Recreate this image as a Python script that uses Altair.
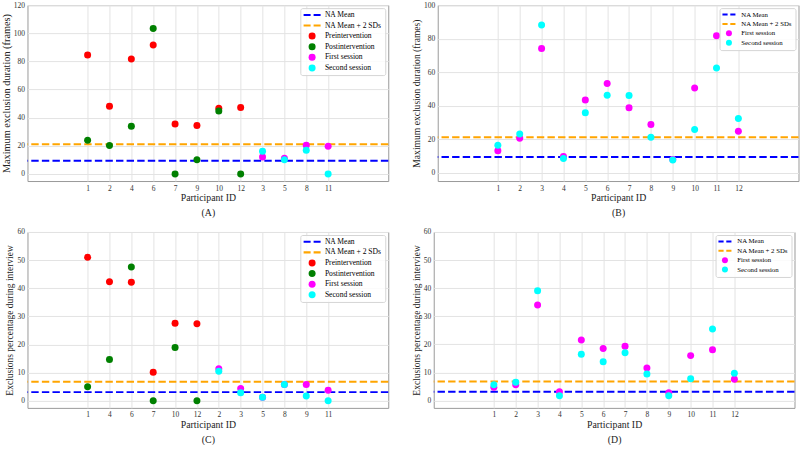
import altair as alt
import pandas as pd

FONT = "Liberation Serif"

SERIES = ["NA Mean", "NA Mean + 2 SDs", "Preintervention", "Postintervention",
          "First session", "Second session"]
SERIES_COLORS = ["#0000ff", "#ffa500", "#ff0000", "#008000", "#ff00ff", "#00ffff"]


def dash_glyph(half_width, half_thick, gap):
    """Two-dash line glyph in symbol units (scaled by the legend symbol radius)."""
    return ("M%.2f,%.2fH%.2fV%.2fH%.2fZ M%.2f,%.2fH%.2fV%.2fH%.2fZ" % (
        -half_width, -half_thick, -gap, half_thick, -half_width,
        gap, -half_thick, half_width, half_thick, gap))


# ---- (A) maximum exclusion duration, grouped ordering ----
a_ids = ["1", "2", "4", "6", "7", "9", "10", "12", "3", "5", "8", "11"]
a_pre = [84.6, 48.2, 81.7, 91.7, 35.6, 34.5, 46.8, 47.3]      # IDs 1,2,4,6,7,9,10,12
a_post = [24.0, 20.2, 34.0, 103.4, 0.0, 10.2, 44.7, 0.0]
a_first = [12.1, 11.2, 20.4, 19.7]                              # IDs 3,5,8,11
a_second = [16.2, 10.2, 16.9, 0.0]

# ---- (B) maximum exclusion duration, sessions ----
b_ids = [str(i) for i in range(1, 13)]
b_first = [13.1, 20.5, 74.1, 9.6, 43.4, 53.2, 38.8, 28.7, 7.8, 50.6, 81.7, 24.7]
b_second = [16.3, 23.1, 88.2, 8.4, 35.7, 46.2, 46.0, 21.1, 7.6, 25.7, 62.5, 32.3]

# ---- (C) exclusion percentage, grouped ordering ----
c_ids = ["1", "4", "6", "7", "10", "12", "2", "3", "5", "8", "9", "11"]
c_pre = [51.0, 42.3, 42.1, 10.2, 27.6, 27.4]                    # IDs 1,4,6,7,10,12
c_post = [5.0, 14.7, 47.6, 0.0, 19.0, 0.0]
c_first = [11.4, 4.4, 1.3, 5.8, 5.8, 3.8]                       # IDs 2,3,5,8,9,11
c_second = [10.5, 2.9, 1.3, 5.8, 1.7, 0.0]

# ---- (D) exclusion percentage, sessions ----
d_ids = [str(i) for i in range(1, 13)]
d_first = [4.7, 5.6, 34.0, 3.1, 21.6, 18.5, 19.3, 11.6, 2.8, 16.0, 18.1, 7.6]
d_second = [5.6, 6.5, 39.1, 1.7, 16.5, 13.8, 17.0, 9.5, 1.7, 7.8, 25.5, 9.7]

# NA reference levels
dur_mean, dur_2sd = 9.4, 21.2
pct_mean, pct_2sd = 3.1, 6.8

# legend styles: (label size, row padding, symbol size, symbol offset, dash glyph)
LEGEND_LARGE = (7.6, 1.6, 49, 5, dash_glyph(2.43, 0.29, 0.43))
LEGEND_SMALL = (6.8, 1.4, 36, 3, dash_glyph(2.17, 0.33, 0.45))


def points_frame(groups):
    rows = []
    for name, start, values in groups:
        for k, v in enumerate(values):
            rows.append({"pos": start + k, "value": v, "series": name})
    return pd.DataFrame(rows)


def panel(ids, groups, mean, sd2, ydomain, yticks, ytitle, letter,
          ytitle_size, legend_style):
    lab_size, row_pad, sym_size, sym_off, dash = legend_style
    df = points_frame(groups)
    names = [s for s in SERIES if s in ("NA Mean", "NA Mean + 2 SDs")
             or s in df["series"].unique()]
    colors = [SERIES_COLORS[SERIES.index(s)] for s in names]
    shapes = [dash if s.startswith("NA") else "circle" for s in names]
    label_expr = "[" + ",".join("'%s'" % i for i in ids) + "][datum.value - 1]"

    x = alt.X("pos:Q",
              scale=alt.Scale(domain=[-1.75, 14.75], nice=False, zero=False),
              axis=alt.Axis(values=list(range(1, len(ids) + 1)), labelExpr=label_expr,
                            title=["Participant ID", letter], titleFontSize=9.8,
                            titleFont=FONT, labelFont=FONT,
                            titleLineHeight=15, titlePadding=1))
    y = alt.Y("value:Q",
              scale=alt.Scale(domain=ydomain, nice=False, zero=False),
              axis=alt.Axis(values=yticks, title=ytitle, titleFontSize=ytitle_size,
                            titleFont=FONT, labelFont=FONT, titlePadding=2))

    lines = pd.DataFrame({"value": [mean, sd2], "line": ["mean", "sd2"]})
    mean_rule = alt.Chart(lines[lines.line == "mean"]).mark_rule(
        color="#0000ff", strokeWidth=2, strokeDash=[7.4, 3.2]).encode(y=y)
    sd_rule = alt.Chart(lines[lines.line == "sd2"]).mark_rule(
        color="#ffa500", strokeWidth=2, strokeDash=[7.4, 3.2]).encode(y=y)

    legend = alt.Legend(orient="top-right", offset=3, title=None,
                        labelFont=FONT, labelFontSize=lab_size,
                        symbolSize=sym_size, symbolStrokeWidth=0, symbolOffset=sym_off,
                        labelOffset=9, rowPadding=row_pad, padding=3,
                        fillColor="rgba(255,255,255,0.85)", strokeColor="#d5d5d5",
                        cornerRadius=2)
    pts = alt.Chart(df).mark_point(filled=True, size=49, opacity=1).encode(
        x=x, y=y,
        color=alt.Color("series:N", scale=alt.Scale(domain=names, range=colors),
                        legend=legend),
        shape=alt.Shape("series:N", scale=alt.Scale(domain=names, range=shapes),
                        legend=legend),
        order=alt.Order("order:Q"),
    ).transform_calculate(order="indexof(%s, datum.series)" % str(names))
    return alt.layer(mean_rule, sd_rule, pts).properties(width=361, height=176)


A = panel(a_ids, [("Preintervention", 1, a_pre), ("Postintervention", 1, a_post),
                  ("First session", 9, a_first), ("Second session", 9, a_second)],
          dur_mean, dur_2sd, [-5, 120], list(range(0, 121, 20)),
          "Maximum exclusion duration (frames)", "(A)", 10.3, LEGEND_LARGE)
B = panel(b_ids, [("First session", 1, b_first), ("Second session", 1, b_second)],
          dur_mean, dur_2sd, [-5, 100], list(range(0, 101, 20)),
          "Maximum exclusion duration (frames)", "(B)", 9.6, LEGEND_SMALL)
C = panel(c_ids, [("Preintervention", 1, c_pre), ("Postintervention", 1, c_post),
                  ("First session", 7, c_first), ("Second session", 7, c_second)],
          pct_mean, pct_2sd, [-2.5, 60], list(range(0, 61, 10)),
          "Exclusions percentage during interview", "(C)", 9.5, LEGEND_LARGE)
D = panel(d_ids, [("First session", 1, d_first), ("Second session", 1, d_second)],
          pct_mean, pct_2sd, [-2.6, 60], list(range(0, 61, 10)),
          "Exclusions percentage during interview", "(D)", 9.5, LEGEND_SMALL)


def row(left, right):
    return alt.hconcat(left, right, spacing=20.5).resolve_scale(
        color="independent", shape="independent", x="independent", y="independent"
    ).resolve_legend(color="independent", shape="independent")


chart = alt.vconcat(row(A, B), row(C, D), spacing=9).resolve_scale(
    color="independent", shape="independent", x="independent", y="independent"
).resolve_legend(color="independent", shape="independent").properties(
    padding={"left": 0.5, "top": 0, "right": 0, "bottom": 0},
    background="white",
).configure_view(
    stroke="#9a9a9a", strokeWidth=1
).configure_axis(
    labelFont=FONT, titleFont=FONT, labelFontSize=7.5, labelColor="#333",
    titleColor="#222", titleFontWeight="normal", gridColor="#e3e3e3",
    gridWidth=1, domain=False, ticks=False, labelPadding=3,
)

chart.save("out.html", embed_options={"renderer": "svg", "actions": False})
